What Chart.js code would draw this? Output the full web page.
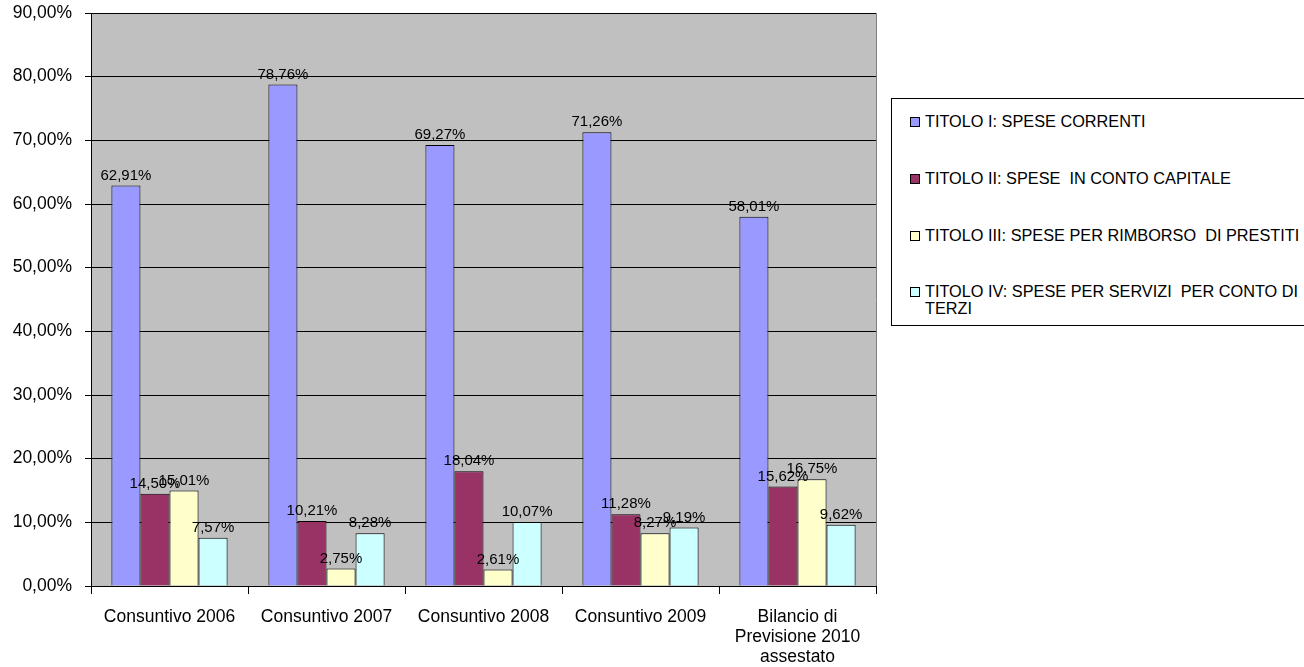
<!DOCTYPE html>
<html>
<head>
<meta charset="utf-8">
<script src="https://cdn.jsdelivr.net/npm/chart.js@4"></script>
<style>
  body { margin: 0; background: #fff; }
  #wrap { position: relative; width: 1304px; height: 667px; overflow: hidden; }
  #legend {
    position: absolute; left: 891px; top: 98px; width: 430px; height: 226px;
    border: 1px solid #000; background: #fff;
    font-family: Arial, "Liberation Sans", sans-serif; font-size: 16.3px; color: #000;
  }
  .item { position: absolute; left: 18px; white-space: pre; line-height: 17px; }
  .box { position: absolute; left: 0; top: 4px; width: 8px; height: 8px; border: 1px solid #000; }
  .txt { margin-left: 15px; display: block; }
</style>
</head>
<body>
<div id="wrap">
  <canvas id="myChart" width="1304" height="667"></canvas>
  <div id="legend"></div>
</div>
<script>
let categories = ["Consuntivo 2006", "Consuntivo 2007", "Consuntivo 2008", "Consuntivo 2009", ["Bilancio di", "Previsione 2010", "assestato"]];
let seriesNames = [
  "TITOLO I: SPESE CORRENTI",
  "TITOLO II: SPESE  IN CONTO CAPITALE",
  "TITOLO III: SPESE PER RIMBORSO  DI PRESTITI",
  "TITOLO IV: SPESE PER SERVIZI  PER CONTO DI\nTERZI"
];
let titolo1 = [62.91, 78.76, 69.27, 71.26, 58.01];
let titolo2 = [14.50, 10.21, 18.04, 11.28, 15.62];
let titolo3 = [15.01, 2.75, 2.61, 8.27, 16.75];
let titolo4 = [7.57, 8.28, 10.07, 9.19, 9.62];
let colors = ['#9999FF', '#993366', '#FFFFCC', '#CCFFFF'];

const font = "Arial, 'Liberation Sans', sans-serif";

function pct(v){
    return v.toFixed(2).replace('.', ',') + '%';
}

// gray plot background + right border
const plotBg = {
    id: 'plotBg',
    beforeDraw(chart){
        const a = chart.chartArea, ctx = chart.ctx;
        ctx.save();
        ctx.fillStyle = '#C0C0C0';
        ctx.fillRect(a.left, a.top, a.right - a.left, a.bottom - a.top);
        ctx.strokeStyle = '#808080';
        ctx.lineWidth = 1;
        ctx.beginPath();
        ctx.moveTo(a.right + 0.5, a.top);
        ctx.lineTo(a.right + 0.5, a.bottom);
        ctx.stroke();
        ctx.restore();
    }
};

// value labels above the bars
const valueLabels = {
    id: 'valueLabels',
    afterDatasetsDraw(chart){
        const ctx = chart.ctx;
        ctx.save();
        ctx.font = '15px ' + font;
        ctx.fillStyle = '#000';
        ctx.textAlign = 'center';
        ctx.textBaseline = 'middle';
        chart.data.datasets.forEach(function(ds, i){
            chart.getDatasetMeta(i).data.forEach(function(bar, j){
                ctx.fillText(pct(ds.data[j]), bar.x, bar.y - 10);
            });
        });
        ctx.restore();
    }
};

const data = {
    labels: categories,
    datasets: [titolo1, titolo2, titolo3, titolo4].map(function(vals, i){
        return {
            label: seriesNames[i],
            data: vals,
            backgroundColor: colors[i],
            borderColor: '#000',
            borderWidth: 1,
            barPercentage: 1,
            categoryPercentage: 0.74
        };
    })
};

const config = {
    type: 'bar',
    data: data,
    options: {
        responsive: false,
        animation: false,
        layout: { padding: { top: 13, right: 428, left: 0, bottom: 0 } },
        plugins: {
            legend: { display: false },
            tooltip: { enabled: false }
        },
        scales: {
            y: {
                min: 0,
                max: 90,
                afterFit: function(scale){
                    scale.width = 91;
                    scale.paddingTop = 0;
                    scale.paddingBottom = 0;
                },
                ticks: {
                    stepSize: 10,
                    color: '#000',
                    padding: 13,
                    font: { family: font, size: 17.5 },
                    callback: function(v){ return pct(v); }
                },
                grid: { color: '#000', tickLength: 6, lineWidth: 1 },
                border: { display: true, color: '#000' }
            },
            x: {
                afterFit: function(scale){
                    scale.height = 81;
                    scale.paddingLeft = 0;
                    scale.paddingRight = 0;
                },
                ticks: {
                    color: '#000',
                    padding: 13,
                    maxRotation: 0,
                    autoSkip: false,
                    font: { family: font, size: 17.5, lineHeight: 1.14 }
                },
                grid: { drawOnChartArea: false, color: '#000', tickLength: 8, offset: true },
                border: { display: true, color: '#000' }
            }
        }
    },
    plugins: [plotBg, valueLabels]
};

let myChart = new Chart(document.getElementById('myChart'), config);

// legend box on the right
const legend = document.getElementById('legend');
const rows = [14, 71, 128, 184];
seriesNames.forEach(function(name, i){
    const item = document.createElement('div');
    item.className = 'item';
    item.style.top = rows[i] + 'px';
    const box = document.createElement('span');
    box.className = 'box';
    box.style.backgroundColor = colors[i];
    const txt = document.createElement('span');
    txt.className = 'txt';
    txt.textContent = name;
    item.appendChild(box);
    item.appendChild(txt);
    legend.appendChild(item);
});
</script>
</body>
</html>
